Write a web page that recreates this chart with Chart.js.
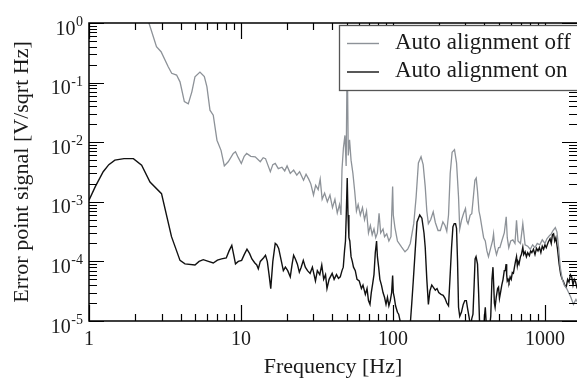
<!DOCTYPE html>
<html><head><meta charset="utf-8">
<script src="https://cdn.jsdelivr.net/npm/chart.js@4/dist/chart.umd.min.js"></script>
<style>html,body{margin:0;padding:0;background:#fff}canvas{display:block}</style>
</head><body>
<canvas id="c" width="577" height="383"></canvas>
<script>
const seriesLabels = ['Auto alignment off', 'Auto alignment on'];
const xTickValues = [1, 10, 100, 1000];
const xTickLabels = ['1', '10', '100', '1000'];
const yTickExponents = [0, -1, -2, -3, -4, -5];
const xTitle = 'Frequency [Hz]';
const yTitle = 'Error point signal [V/sqrt Hz]';

const offFreq = [2.2,2.48,2.78,2.98,3.32,3.5,3.77,3.97,4.24,4.5,4.75,4.98,5.37,5.74,5.97,6.25,6.57,6.95,7.39,7.77,8.24,8.9,9.2,9.6,10.05,10.5,10.9,11.6,12.4,13.4,14.0,14.5,15.6,16.2,16.8,17.6,18.6,19.4,20.1,21.1,22.2,23.3,24.3,25.8,26.8,27.9,28.8,30,31,32.2,33.2,34.2,35.5,37,38.5,40,41.5,43,44.5,45.5,46.2,47.2,48.3,49.2,50.0,50.8,51.8,53,54.5,56,57.5,59,61,63,65,67,69,71,73,75,77,79,81,83,86,88,91,94,97,99.5,100.5,103,107,114,120,125,130,137,142,147,153,158,163,167,171,177,184,190,198,205,213,220,226,232,238,245,254,262,270,275,283,291,300,306,312,322,330,338,346,353,360,368,375,385,395,405,415,425,440,452,459,466,480,495,505,520,540,556,565,578,595,615,635,650,665,690,715,740,770,800,830,860,890,925,960,1000,1030,1070,1100,1130,1170,1200,1230,1260,1300,1340,1390,1430,1480,1540,1600,1650];
const offVal = [2.0,1.0,0.40,0.33,0.184,0.143,0.134,0.103,0.048,0.044,0.07,0.125,0.150,0.126,0.085,0.0345,0.0284,0.0108,0.0073,0.0040,0.0047,0.0065,0.0069,0.0055,0.0044,0.0058,0.0065,0.0058,0.0057,0.0047,0.0055,0.0053,0.0032,0.0042,0.0044,0.0036,0.0038,0.0033,0.0040,0.0030,0.0034,0.0028,0.0032,0.0023,0.0029,0.0024,0.0020,0.0013,0.0019,0.0016,0.0024,0.0011,0.0014,0.0010,0.0013,0.0008,0.0011,0.00065,0.0009,0.0006,0.0035,0.0080,0.013,0.004,0.35,0.006,0.011,0.005,0.003,0.0015,0.0007,0.0009,0.0006,0.0008,0.0005,0.0007,0.0003,0.0004,0.00028,0.00035,0.00025,0.0003,0.00064,0.0003,0.00035,0.00026,0.00029,0.00022,0.00026,0.0018,0.0006,0.00037,0.00022,0.000173,0.000145,0.00016,0.0002,0.00043,0.0012,0.0045,0.0057,0.0042,0.0018,0.0007,0.00043,0.0005,0.00068,0.00045,0.00033,0.00033,0.00046,0.0004,0.00032,0.0006,0.003,0.0068,0.0075,0.0045,0.0012,0.00035,0.0005,0.00063,0.00077,0.00048,0.00043,0.0006,0.00063,0.0012,0.0023,0.0025,0.0015,0.0007,0.00056,0.00037,0.00025,0.00022,0.00015,0.00012,0.00017,0.00022,0.00029,0.00018,0.00013,0.00017,0.00017,0.00022,0.0003,0.00056,0.00025,0.00017,0.00022,0.00023,0.0002,0.00049,0.00022,0.0002,0.00043,0.00019,0.00018,0.00016,0.00019,0.00017,0.0002,0.00019,0.00023,0.0002,0.00024,0.00027,0.00029,0.00033,0.00037,0.00031,0.00017,0.00008,0.00005,0.00004,0.000035,0.00003,0.000025,0.000019,0.000023,0.00002];

const onFreq = [1.0,1.1,1.24,1.35,1.48,1.7,1.96,2.22,2.52,3.0,3.49,3.97,4.28,4.98,5.3,5.65,6.1,6.57,7.0,7.45,8.0,8.35,8.7,8.95,9.2,9.6,10.1,10.5,10.95,11.4,11.8,12.3,12.7,13.0,13.4,14.1,14.5,14.9,15.3,15.7,16.2,16.8,17.2,17.7,18.3,19.0,19.6,20.3,21.1,21.7,22.2,22.8,23.5,24.2,24.9,25.7,26.5,27.4,28.5,29.5,30.9,31.8,33,34,35,36,36.8,38,39.8,41,42.5,43.8,45,46.2,47.1,48.0,48.7,49.3,50.0,50.6,51.3,52,53,54,55,56.5,58,60,62,63.5,65.8,67.5,69,70.6,72,73.5,75,76.5,78,79,80.5,82,84,86,88,90,92,94,96,98,99.5,100.5,102,104,107,109,112,115,125,130,133,136,140,144,150,155,160,163,167,171,175,180,184,190,195,200,207,214,220,226,232,237,243,248,253,258,262,266,270,275,282,290,297,304,310,318,325,330,336,342,347,352,360,366,372,378,395,400,405,411,418,430,440,448,455,460,465,470,478,488,495,502,510,520,530,540,548,555,560,565,572,580,590,600,610,620,630,640,650,658,665,675,690,700,715,725,740,755,770,790,805,820,840,860,880,900,920,940,960,980,1000,1020,1050,1080,1100,1120,1140,1160,1180,1210,1240,1270,1300,1320,1350,1380,1410,1440,1470,1500,1530,1560,1590,1620,1650];
const onVal = [0.00106,0.0018,0.0032,0.0042,0.0050,0.0053,0.0053,0.0041,0.00215,0.00137,0.00026,0.000104,0.000091,0.000087,0.0001,0.000107,0.0001,0.000094,0.000105,0.00011,0.000114,0.00015,0.000185,0.00013,0.000091,0.0001,0.000104,0.00013,0.00016,0.000135,0.00011,0.000095,0.000087,0.000075,0.0001,0.000115,0.000127,0.0001,0.00006,0.000035,0.0001,0.0002,0.00019,0.000165,0.00011,0.00007,0.00008,0.00007,0.000055,0.00009,0.000127,0.00011,0.00009,0.000066,0.00008,0.000104,0.00008,0.00007,0.000063,0.00008,0.000047,0.00007,0.00006,0.000087,0.00005,0.00006,0.000035,0.00005,0.000063,0.00005,0.00006,0.000052,0.000055,0.00007,0.00008,0.00015,0.00022,0.00063,0.0025,0.0006,0.00025,0.00022,0.00012,0.0001,0.00008,0.00007,0.00005,0.000047,0.000035,0.00004,0.000028,0.000035,0.000022,0.000019,0.00003,0.000042,0.00006,0.00014,0.00022,0.00012,0.00008,0.00005,0.00004,0.00003,0.000025,0.000019,0.000025,0.000018,0.000022,0.00003,0.000058,0.00003,0.000025,0.000018,0.000014,0.000013,0.0000095,0.000006,0.000006,0.000009,0.00002,0.000047,0.00015,0.00046,0.0006,0.00053,0.0003,0.000173,0.00005,0.000019,0.000032,0.00004,0.000037,0.000033,0.000035,0.00003,0.000028,0.000027,0.000024,0.00002,0.000018,0.00005,0.000173,0.00038,0.00043,0.00043,0.00036,0.0001,0.000017,0.000012,0.000014,0.000019,0.000022,0.000022,0.000016,0.000011,0.000008,0.000011,0.000013,0.00004,0.00011,0.00012,0.00009,0.00003,0.000008,0.000006,0.000006,0.000012,0.000017,0.000009,0.000006,0.000007,0.000012,0.00005,0.00008,0.00004,0.00002,0.000017,0.000025,0.000035,0.000037,0.000024,0.00003,0.00004,0.00005,0.00007,0.00007,0.00009,0.00006,0.000047,0.00005,0.000045,0.000055,0.00005,0.000065,0.000063,0.00008,0.0001,0.00012,0.000085,0.0001,0.00009,0.00012,0.00013,0.000173,0.00013,0.000145,0.00012,0.00014,0.000125,0.00015,0.00014,0.00016,0.00013,0.000165,0.00015,0.00017,0.00014,0.00018,0.00016,0.00019,0.00017,0.00021,0.00024,0.0002,0.00028,0.00029,0.00022,0.00025,0.00016,0.00009,0.00006,0.00005,0.000047,0.00004,0.000037,0.00005,0.000045,0.00006,0.000055,0.00004,0.00005,0.000045,0.000037,0.00004];

const offColor = '#8d9298';
const onColor = '#111111';
const SERIF = '"Liberation Serif", "Times New Roman", serif';

const decor = {
  id: 'decor',
  afterDatasetsDraw(chart) {
    const {ctx, chartArea: a, scales: {x, y}} = chart;
    ctx.save();
    ctx.strokeStyle = '#000';
    ctx.lineWidth = 1.5;
    ctx.beginPath();
    ctx.moveTo(a.right, a.top); ctx.lineTo(a.left, a.top);
    ctx.lineTo(a.left, a.bottom); ctx.lineTo(a.right, a.bottom);
    ctx.stroke();
    ctx.lineWidth = 1.2;
    ctx.beginPath();
    for (let d = 0; d <= 3; d++) {
      for (let m = 1; m <= 9; m++) {
        const f = m * Math.pow(10, d);
        if (f > x.max) break;
        const px = Math.round(x.getPixelForValue(f)) + 0.5;
        const len = m === 1 ? 16 : 7;
        ctx.moveTo(px, a.bottom); ctx.lineTo(px, a.bottom - len);
        ctx.moveTo(px, a.top); ctx.lineTo(px, a.top + len);
      }
    }
    for (let e = -5; e <= 0; e++) {
      for (let m = 1; m <= 9; m++) {
        const v = m * Math.pow(10, e);
        if (v > y.max * 1.0001) break;
        const py = Math.round(y.getPixelForValue(v)) + 0.5;
        const len = m === 1 ? 15 : 8;
        ctx.moveTo(a.left, py); ctx.lineTo(a.left + len, py);
        ctx.moveTo(a.right, py); ctx.lineTo(a.right - len, py);
      }
    }
    ctx.stroke();

    const bx = a.left + 250, by = a.top + 2, bb = a.top + 67;
    ctx.fillStyle = '#fff';
    ctx.fillRect(bx, by, a.right - bx + 10, bb - by);
    ctx.strokeStyle = '#555';
    ctx.lineWidth = 1.3;
    ctx.strokeRect(bx + 0.5, by + 0.5, a.right - bx + 10, bb - by);
    const colors = [offColor, onColor];
    ctx.font = '23px ' + SERIF;
    ctx.textAlign = 'left';
    ctx.textBaseline = 'alphabetic';
    seriesLabels.forEach((lab, i) => {
      const ly = by + 18.5 + i * 28.5;
      ctx.strokeStyle = colors[i];
      ctx.lineWidth = 1.4;
      ctx.beginPath(); ctx.moveTo(bx + 8, ly); ctx.lineTo(bx + 40, ly); ctx.stroke();
      ctx.fillStyle = '#1a1a1a';
      ctx.fillText(lab, bx + 56, ly + 5);
    });

    ctx.fillStyle = '#1a1a1a';
    ctx.font = '20px ' + SERIF;
    ctx.textAlign = 'center';
    xTickValues.forEach((v, i) => {
      ctx.fillText(xTickLabels[i], x.getPixelForValue(v), a.bottom + 24);
    });
    yTickExponents.forEach(e => {
      const py = y.getPixelForValue(Math.pow(10, e));
      const expStr = e < 0 ? '-' + (-e) : String(e);
      ctx.font = '14px ' + SERIF;
      const ew = ctx.measureText(expStr).width;
      const right = a.left - 6;
      ctx.textAlign = 'left';
      ctx.fillText(expStr, right - ew, py + 3);
      ctx.font = '20px ' + SERIF;
      ctx.textAlign = 'right';
      ctx.fillText('10', right - ew - 0.5, py + 11.5);
    });
    ctx.font = '22px ' + SERIF;
    ctx.textAlign = 'center';
    ctx.fillText(xTitle, (a.left + a.right) / 2, a.bottom + 52);
    ctx.save();
    ctx.translate(28, (a.top + a.bottom) / 2);
    ctx.rotate(-Math.PI / 2);
    ctx.fillText(yTitle, 0, 0);
    ctx.restore();
    ctx.restore();
  }
};

new Chart(document.getElementById('c'), {
  type: 'line',
  data: {
    datasets: [
      { label: seriesLabels[0], data: offFreq.map((f, i) => ({x: f, y: offVal[i]})),
        borderColor: offColor, borderWidth: 1.3, pointRadius: 0, tension: 0, clip: 0 },
      { label: seriesLabels[1], data: onFreq.map((f, i) => ({x: f, y: onVal[i]})),
        borderColor: onColor, borderWidth: 1.4, pointRadius: 0, tension: 0, clip: 0 }
    ]
  },
  options: {
    responsive: false,
    animation: false,
    devicePixelRatio: 1,
    layout: { padding: { left: 89, top: 23, right: 0, bottom: 62 } },
    scales: {
      x: { type: 'logarithmic', min: 1, max: 1625, display: false },
      y: { type: 'logarithmic', min: 1e-5, max: 1, display: false }
    },
    plugins: { legend: { display: false }, tooltip: { enabled: false } }
  },
  plugins: [decor]
});
</script>
</body></html>
